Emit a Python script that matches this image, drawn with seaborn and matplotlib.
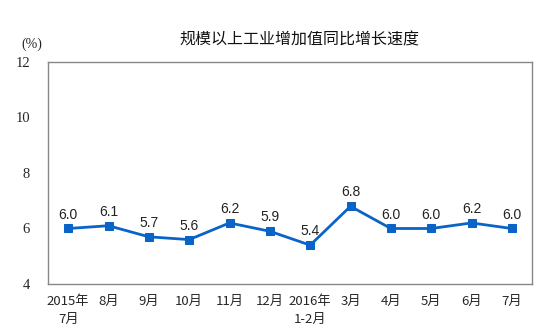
import matplotlib
matplotlib.use("Agg")
import matplotlib.pyplot as plt
import seaborn as sns
import numpy as np
import pandas as pd

months = ["2015年\n7月", "8月", "9月", "10月", "11月", "12月", "2016年\n1-2月",
          "3月", "4月", "5月", "6月", "7月"]
growth = [6.0, 6.1, 5.7, 5.6, 6.2, 5.9, 5.4, 6.8, 6.0, 6.0, 6.2, 6.0]
y_ticks = [4, 6, 8, 10, 12]

sns.set_theme(style="white")
plt.rcParams["font.family"] = ["Noto Sans CJK SC", "DejaVu Sans"]

df = pd.DataFrame({"pos": np.arange(len(months)), "value": growth})

fig = plt.figure(figsize=(5.4, 3.34), dpi=100)
ax = fig.add_axes([0.0889, 0.1497, 0.8963, 0.6647])

blue = "#0a64c8"
sns.lineplot(data=df, x="pos", y="value", ax=ax, color=blue, linewidth=2,
             marker="s", markersize=5.5, markeredgecolor=blue, markerfacecolor=blue)

for x, v in zip(df["pos"], df["value"]):
    ax.annotate(f"{v:.1f}", (x, v), xytext=(0, 5), textcoords="offset points",
                ha="center", va="bottom", fontsize=10, family=["Liberation Sans"],
                color="#222222")

ax.set_xlim(-0.5, len(months) - 0.5)
ax.set_ylim(4, 12)
ax.set_yticks(y_ticks)
ax.set_yticklabels([str(t) for t in y_ticks], family=["Liberation Serif"], fontsize=10.5)
ax.set_xticks(np.arange(len(months)))
ax.set_xticklabels(months, fontsize=9.5, linespacing=1.45)
ax.set_xticks(np.arange(len(months) - 1) + 0.5, minor=True)
ax.tick_params(axis="x", which="major", length=0, pad=8)
ax.tick_params(axis="x", which="minor", direction="in", length=4, color="#888888", width=1)
ax.tick_params(axis="y", which="major", direction="in", length=4, color="#888888",
               width=1, pad=13)
ax.set_xlabel("")
ax.set_ylabel("")

for s in ax.spines.values():
    s.set_visible(True)
    s.set_color("#888888")
    s.set_linewidth(1)

fig.text(0.555, 0.88, "规模以上工业增加值同比增长速度", ha="center", va="center",
         fontsize=11.5, color="#111111")
fig.text(0.058, 0.868, "(%)", ha="center", va="center", fontsize=10,
         family=["Liberation Serif"], color="#222222")

fig.savefig("out.png", dpi=100)
